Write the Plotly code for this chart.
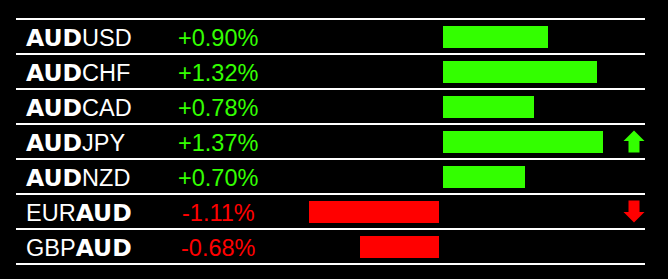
import plotly.graph_objects as go

# ---- data ----
pairs = ["AUDUSD", "AUDCHF", "AUDCAD", "AUDJPY", "AUDNZD", "EURAUD", "GBPAUD"]
changes = [0.90, 1.32, 0.78, 1.37, 0.70, -1.11, -0.68]
base_ccy = "AUD"

# ---- style / layout constants ----
W, H = 668, 279
GREEN = "#33FF00"
RED = "#FF0000"
WHITE = "#FFFFFF"
PX_PER_UNIT = 116.7      # pixels per 1 %
ZERO_PX = 441            # pixel x of zero
GAP_PX = 2               # half-gap between positive / negative bars
ROW_H = 35
ROW0_PX = 36.5
L_MARGIN, R_MARGIN = 16, 23
FONT = "Liberation Sans, Arial, sans-serif"
BOLD_FONT = "DejaVu Sans"
FONT_SIZE = 23.5

n = len(pairs)
rows = list(range(n))
plot_w = W - L_MARGIN - R_MARGIN

def px_to_x(px):
    return (px - ZERO_PX) / PX_PER_UNIT

def px_to_paper(px):
    return (px - L_MARGIN) / plot_w

gap = GAP_PX / PX_PER_UNIT
colors = [GREEN if v > 0 else RED for v in changes]
bases = [gap if v > 0 else -gap for v in changes]

fig = go.Figure()
fig.add_trace(go.Bar(
    y=rows, x=changes, base=bases, orientation="h",
    marker=dict(color=colors, line=dict(width=0)),
    width=22 / ROW_H, hoverinfo="skip",
))

def label_html(p):
    i = p.find(base_ccy)
    bold = f"<span style='font-family:{BOLD_FONT}'><b>{base_ccy}</b></span>"
    return p[:i] + bold + p[i + len(base_ccy):]

annotations = []
for i, (p, v) in enumerate(zip(pairs, changes)):
    annotations.append(dict(
        x=px_to_paper(24), xref="paper", xanchor="left",
        y=i, yref="y", yanchor="middle", yshift=-1,
        text=label_html(p), showarrow=False,
        font=dict(family=FONT, size=FONT_SIZE, color=WHITE),
    ))
    annotations.append(dict(
        x=px_to_paper(218), xref="paper", xanchor="center",
        y=i, yref="y", yanchor="middle", yshift=-1,
        text=f"{v:+.2f}%", showarrow=False,
        font=dict(family=FONT, size=FONT_SIZE, color=GREEN if v > 0 else RED),
    ))

# trend arrows on strongest / weakest pair
imax = max(rows, key=lambda r: changes[r])
imin = min(rows, key=lambda r: changes[r])
ax_paper = px_to_paper(634)

def add_arrow(row, color, up):
    s = 1 if up else -1
    # head
    annotations.append(dict(
        x=ax_paper, xref="paper", y=row, yref="y", yshift=s * 11,
        text="", showarrow=True, ax=0, ay=s * 10, axref="pixel", ayref="pixel",
        arrowhead=1, arrowsize=3.5, arrowwidth=1, arrowcolor=color,
    ))
    # stem (overlaps slightly into the head)
    annotations.append(dict(
        x=ax_paper, xref="paper", y=row, yref="y", yshift=s * 2.5,
        text="", showarrow=True, ax=0, ay=s * 15, axref="pixel", ayref="pixel",
        arrowhead=0, arrowwidth=11, arrowcolor=color,
    ))

add_arrow(imax, GREEN, True)
add_arrow(imin, RED, False)

fig.update_layout(
    width=W, height=H,
    margin=dict(l=L_MARGIN, r=R_MARGIN, t=0, b=0, pad=0),
    paper_bgcolor="black", plot_bgcolor="black",
    showlegend=False, bargap=0,
    annotations=annotations,
    xaxis=dict(range=[px_to_x(L_MARGIN), px_to_x(W - R_MARGIN)],
               showgrid=False, zeroline=False, showticklabels=False,
               ticks="", fixedrange=True),
    yaxis=dict(range=[(H - ROW0_PX) / ROW_H, -ROW0_PX / ROW_H],
               tickvals=[r - 0.5 for r in rows] + [n - 0.5],
               showgrid=True, gridcolor=WHITE, gridwidth=2,
               zeroline=False, showticklabels=False, ticks="",
               fixedrange=True),
)

fig.write_html("out.html", config={"displayModeBar": False})
